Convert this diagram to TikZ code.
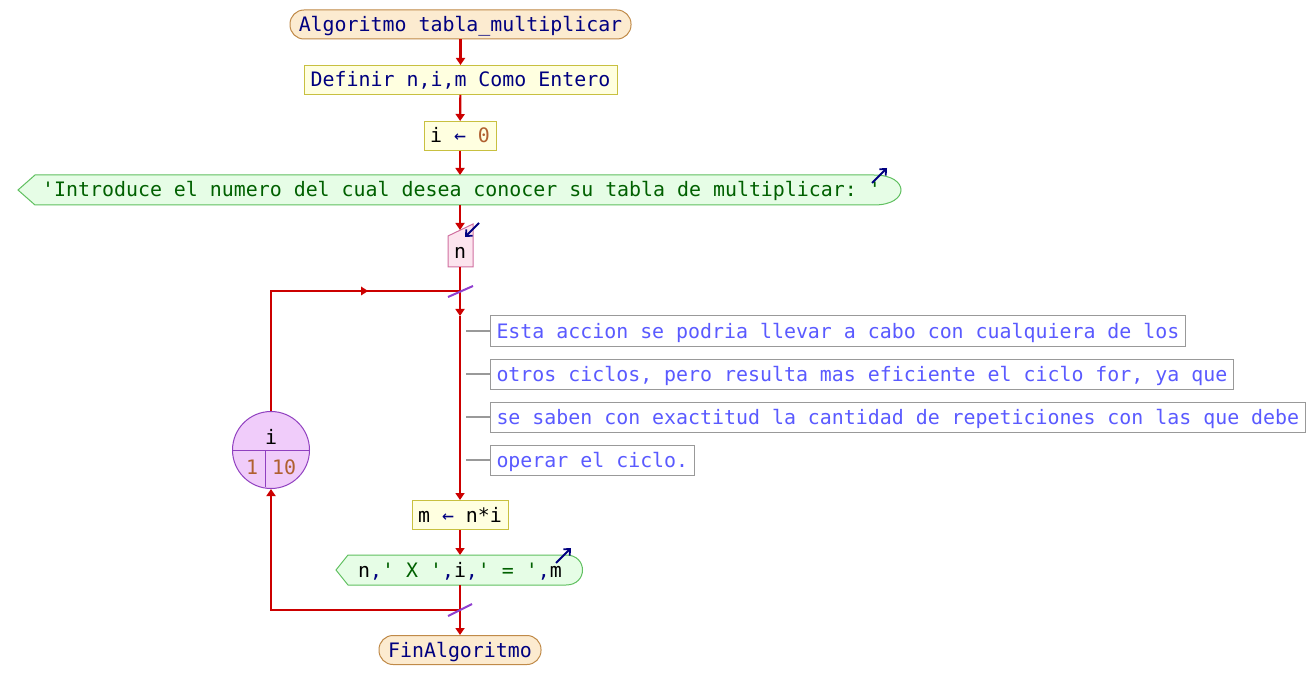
\documentclass[tikz,border=0pt]{standalone}
\usepackage{fontspec}
\newfontfamily\mono{DejaVu Sans Mono}
\usetikzlibrary{arrows.meta}
\definecolor{flowred}{HTML}{CC0000}
\definecolor{termf}{HTML}{FCEBD0}
\definecolor{termb}{HTML}{C08A48}
\definecolor{procf}{HTML}{FFFFE0}
\definecolor{procb}{HTML}{C8C040}
\definecolor{outf}{HTML}{E6FDE6}
\definecolor{outb}{HTML}{60C060}
\definecolor{inf}{HTML}{FCE4EE}
\definecolor{inb}{HTML}{D070A0}
\definecolor{loopf}{HTML}{F0CCFA}
\definecolor{loopb}{HTML}{9040C0}
\definecolor{slashc}{HTML}{9040D0}
\definecolor{navy}{HTML}{000080}
\definecolor{dgreen}{HTML}{006000}
\definecolor{numc}{HTML}{B06030}
\definecolor{comb}{HTML}{999999}
\definecolor{comt}{HTML}{5A5AFF}
\newcommand\qq{\textquotesingle}
\begin{document}
\begin{tikzpicture}[x=1pt,y=-1pt,
  txt/.style={font=\mono\fontsize{19.9}{24}\selectfont\frenchspacing, inner sep=0pt, text height=16pt, text depth=2pt},
  box/.style={txt, line width=1pt},
  term/.style={box, draw=termb, fill=termf, rounded corners=14pt, minimum height=29pt, text=navy},
  proc/.style={box, draw=procb, fill=procf, minimum height=29pt},
  combox/.style={box, draw=comb, text=comt, minimum height=30pt, inner xsep=6pt, anchor=west},
  flow/.style={draw=flowred, line width=2.2pt, -{Triangle[width=9pt,length=7pt]}},
  flowline/.style={draw=flowred, line width=2.2pt},
  outshape/.style={draw=outb, fill=outf, line width=1pt},
  slash/.style={draw=slashc, line width=2pt},
  iconarrow/.style={draw=navy, line width=1.8pt, -{Straight Barb[length=5pt,width=9pt]}},
  comline/.style={draw=comb, line width=2pt}
]
\useasboundingbox[fill=white] (0,0) rectangle (1316,700);

% start
\node[term, minimum width=341pt] (start) at (460.5,24.5) {Algoritmo tabla\_multiplicar};
% definir
\node[proc, minimum width=313pt, text=navy] (def) at (460.5,80) {Definir n,i,m Como Entero};
% i <- 0
\node[proc, minimum width=72pt] (asg) at (460,136) {i \textcolor{navy}{←} \textcolor{numc}{0}};

% long output
\path[outshape] (35,175) -- (874,175) .. controls (910,175) and (910,205) .. (874,205) -- (35,205) -- (18,190) -- cycle;
\coordinate (o1t) at (460,175);
\coordinate (o1b) at (460,205);
\node[txt, anchor=west, text=dgreen] (o1txt) at (42,190) {\qq Introduce el numero del cual desea conocer su tabla de multiplicar: \qq};
\coordinate (ic1s) at (872,183);
\coordinate (ic1e) at (887,168);
\draw[iconarrow] (ic1s) -- (ic1e);

% input n
\path[draw=inb, fill=inf, line width=1pt] (448,236) -- (473,224) -- (473,267) -- (448,267) -- cycle;
\coordinate (nt) at (460,230);
\coordinate (nb) at (460,267);
\node[txt] (ntxt) at (460,252) {n};
\coordinate (ic2s) at (479,223);
\coordinate (ic2e) at (465,237);
\draw[iconarrow] (ic2s) -- (ic2e);

% arrows top
\draw[flow] (start) -- (def);
\draw[flow] (def) -- (asg);
\draw[flow] (asg) -- (o1t);
\draw[flow] (o1b) -- (nt);

% loop junctions
\coordinate (j1) at (460,291);
\coordinate (b1) at (460,316);
\coordinate (j2) at (460,610);
\coordinate (lc1) at (271,291);
\coordinate (lc2) at (271,610);

% comments
\node[combox] (c1) at (490,331) {Esta accion se podria llevar a cabo con cualquiera de los~};
\node[combox] (c2) at (490,374) {otros ciclos, pero resulta mas eficiente el ciclo for, ya que};
\node[combox] (c3) at (490,417) {se saben con exactitud la cantidad de repeticiones con las que debe};
\node[combox] (c4) at (490,460) {operar el ciclo.};
\foreach \c/\yy in {c1/331,c2/374,c3/417,c4/460}{
  \coordinate (\c s) at (466,\yy);
  \draw[comline] (\c s) -- (\c.west);
}

% m <- n*i
\node[proc, minimum width=96pt] (m) at (460,515) {m \textcolor{navy}{←} n*i};

% small output
\path[outshape] (348,555) -- (566,555) .. controls (588,555) and (588,585) .. (566,585) -- (348,585) -- (336,570) -- cycle;
\coordinate (o2t) at (460,555);
\coordinate (o2b) at (460,585);
\node[txt] (o2txt) at (460,570) {n\textcolor{navy}{,}\textcolor{dgreen}{\qq{} X \qq}\textcolor{navy}{,}i\textcolor{navy}{,}\textcolor{dgreen}{\qq{} = \qq}\textcolor{navy}{,}m};
\coordinate (ic3s) at (556,563);
\coordinate (ic3e) at (571,548);
\draw[iconarrow] (ic3s) -- (ic3e);

% end
\node[term, minimum width=162pt] (fin) at (460,650) {FinAlgoritmo};

% loop circle
\node[circle, draw=loopb, fill=loopf, line width=1pt, minimum size=77pt, inner sep=0pt] (loop) at (271,450) {};
\draw[loopb, line width=1pt] (loop.west) -- (loop.east);
\coordinate (dv1) at (265,450);
\coordinate (dv2) at (265,487);
\draw[loopb, line width=1pt] (dv1) -- (dv2);
\node[txt] (lvar) at (271,437) {i};
\node[txt, text=numc] (lfrom) at (252,467) {1};
\node[txt, text=numc] (lto) at (284,467) {10};

% flow main
\draw[flowline] (nb) -- (j1);
\draw[flow] (j1) -- (b1);
\draw[flow] (b1) -- (m);
\draw[flow] (m) -- (o2t);
\draw[flowline] (o2b) -- (j2);
\draw[flow] (j2) -- (fin);
% loop back
\draw[flow] (j2) -- (lc2) -- (loop.south);
\draw[flowline] (loop.north) -- (lc1) -- (j1);
\coordinate (ma) at (368,291);
\coordinate (mb) at (360,291);
\draw[flowline, -{Triangle[width=9pt,length=7pt]}, line width=0pt] (mb) -- (ma);

% slashes
\draw[slash] (448,297) -- (473,286);
\draw[slash] (448,616) -- (472,604);
\end{tikzpicture}
\end{document}
